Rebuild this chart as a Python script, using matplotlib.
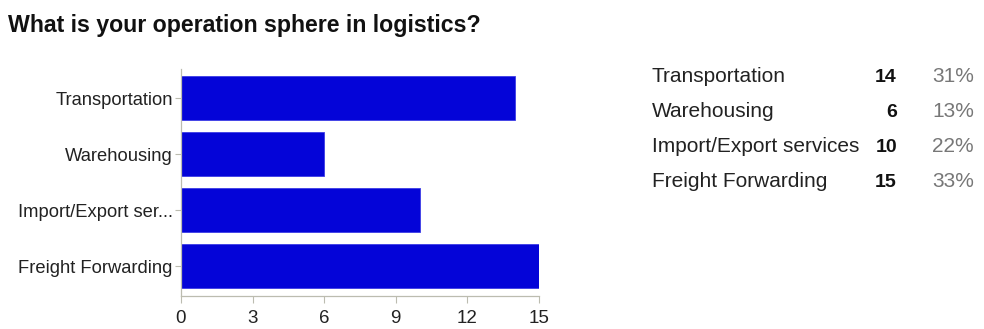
import matplotlib
matplotlib.use("Agg")
import matplotlib.pyplot as plt

# ── Data ──────────────────────────────────────────────────────────────────────
categories = ["Transportation", "Warehousing", "Import/Export services", "Freight Forwarding"]
axis_labels = ["Transportation", "Warehousing", "Import/Export ser...", "Freight Forwarding"]
counts = [14, 6, 10, 15]
x_ticks = [0, 3, 6, 9, 12, 15]

BAR = "#0404D8"
plt.rcParams["font.family"] = ["Liberation Sans", "DejaVu Sans"]

W, H = 984, 329
fig = plt.figure(figsize=(W / 100, H / 100), dpi=100)
fig.patch.set_facecolor("white")

fig.text(8 / W, 1 - 32 / H, "What is your operation sphere in logistics?",
         fontsize=16.7, fontweight="bold", color="#111111", va="baseline", ha="left")

# ── Bar chart ────────────────────────────────────────────────────────────────
ax = fig.add_axes([181 / W, 1 - 296 / H, (539 - 181) / W, (296 - 69) / H])
ypos = list(range(len(counts)))
ax.barh(ypos, counts, height=0.79, color=BAR, edgecolor="#3c3ce6", linewidth=0.6)
ax.set_ylim(3.53, -0.52)
ax.set_xlim(0, 15)
ax.set_yticks(ypos)
ax.set_yticklabels(axis_labels, fontsize=13.2, color="#222222")
ax.set_xticks(x_ticks)
ax.set_xticklabels([str(t) for t in x_ticks], fontsize=13.5, color="#222222")
for side in ("top", "right"):
    ax.spines[side].set_visible(False)
for side in ("left", "bottom"):
    ax.spines[side].set_color("#bcbcb0")
    ax.spines[side].set_linewidth(0.9)
ax.tick_params(axis="y", color="#bcbcb0", length=4, width=0.8, pad=2)
ax.tick_params(axis="x", color="#bcbcb0", length=5, width=0.8, pad=5)

# ── Summary table ────────────────────────────────────────────────────────────
total = sum(counts)
row_base = [82, 117, 152, 187]
for cat, n, yb in zip(categories, counts, row_base):
    fy = 1 - yb / H
    fig.text(652 / W, fy, cat, fontsize=15, color="#222222", va="baseline", ha="left")
    fig.text(897 / W, fy, str(n), fontsize=14, fontweight="bold", color="#111111",
             va="baseline", ha="right")
    fig.text(974 / W, fy, f"{round(100 * n / total)}%", fontsize=15, color="#777777",
             va="baseline", ha="right")

fig.savefig("out.png", dpi=100, facecolor="white")
